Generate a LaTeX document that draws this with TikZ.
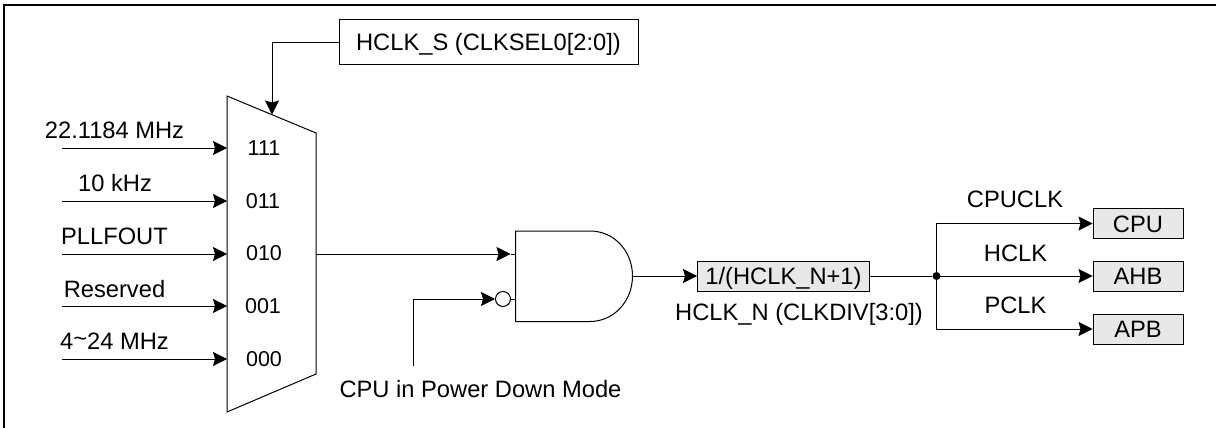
\documentclass[tikz,border=0pt]{standalone}
\usepackage{fontspec}
\setmainfont{Liberation Sans}
\usetikzlibrary{arrows.meta}
\tikzset{
  wire/.style={line width=1pt,draw=black},
  sig/.style={wire,-{Stealth[length=14pt,width=14pt,inset=2pt]}},
  lbl/.style={inner sep=0pt,anchor=base,font=\fontsize{23.7}{28}\selectfont},
  muxlbl/.style={inner sep=0pt,anchor=base,font=\fontsize{21.5}{24}\selectfont},
  plainbox/.style={draw=black,line width=1pt,inner sep=0pt,font=\fontsize{23.7}{28}\selectfont,text height=17pt,text depth=0pt},
  graybox/.style={plainbox,fill=boxgray},
  frameline/.style={line width=2.2pt,draw=black},
}
\definecolor{boxgray}{HTML}{E8E8E8}
\begin{document}
\begin{tikzpicture}[x=1pt,y=-1pt]
\useasboundingbox (0,0) rectangle (1216,428);
% frame
\coordinate (f1) at (4,428); \coordinate (f2) at (4,5); \coordinate (f3) at (1216,5);
\draw[frameline] (f1) -- (f2) -- (f3);
% mux
\coordinate (m1) at (227,96); \coordinate (m2) at (316,133); \coordinate (m3) at (316,374); \coordinate (m4) at (227,412);
\draw[wire,line join=miter] (m1) -- (m2) -- (m3) -- (m4) -- cycle;
\coordinate (msel) at (272,114.5);
% select box
\node[plainbox,minimum width=299pt,minimum height=45pt] (sel) at (488.5,42.5) {HCLK\_S (CLKSEL0[2:0])};
\draw[sig] (sel.west) -| (msel);
% inputs
\foreach \n/\y in {a/148,b/201,c/254,d/306,e/359}{
  \coordinate (s\n) at (62,\y);
  \coordinate (t\n) at (227,\y);
  \draw[sig] (s\n) -- (t\n);
}
\node[lbl] (la) at (114.5,138) {22.1184 MHz};
\node[lbl] (lb) at (115,191) {10 kHz};
\node[lbl] (lc) at (114.5,244) {PLLFOUT};
\node[lbl] (ld) at (114.5,297) {Reserved};
\node[lbl] (le) at (114.5,349) {4\raisebox{3pt}{\textasciitilde}24 MHz};
\node[muxlbl] (ma) at (264,155) {111};
\node[muxlbl] (mb) at (263,208) {011};
\node[muxlbl] (mc) at (264,260.5) {010};
\node[muxlbl] (md) at (263,313) {001};
\node[muxlbl] (me) at (264,366) {000};
% AND gate
\coordinate (g1) at (515.5,231); \coordinate (g2) at (515.5,321.5);
\coordinate (gi1) at (515.5,254); \coordinate (gi2) at (515.5,299);
\coordinate (gout) at (632.5,276);
\draw[wire] (g1) -- (590,231) .. controls (614,231) and (632.5,251) .. (gout)
  .. controls (632.5,301) and (614,321.5) .. (590,321.5) -- (g2) -- cycle;
\coordinate (minout) at (316,254);
\coordinate (minend) at (510.5,254);
\draw[sig] (minout) -- (minend);
\draw[wire] (minend) -- (gi1);
\node[circle,draw=black,line width=1pt,inner sep=0pt,minimum size=15pt] (inv) at (503,299) {};
\draw[wire] (inv.east) -- (gi2);
\coordinate (pd) at (413.5,366);
\draw[sig] (pd) |- (inv.west);
\node[lbl] (pdl) at (480.5,397) {CPU in Power Down Mode};
% divider
\node[graybox,minimum width=172pt,minimum height=30pt] (div) at (783.5,276) {1/(HCLK\_N+1)};
\draw[sig] (gout) -- (div.west);
\node[lbl] (divl) at (799,320) {HCLK\_N (CLKDIV[3:0])};
% outputs
\node[graybox,minimum width=90pt,minimum height=30pt] (cpu) at (1138,223.5) {CPU};
\node[graybox,minimum width=90pt,minimum height=30pt] (ahb) at (1138,276) {AHB};
\node[graybox,minimum width=90pt,minimum height=30pt] (apb) at (1138,329) {APB};
\node[circle,fill=black,inner sep=0pt,minimum size=8pt] (jn) at (936.5,276) {};
\draw[wire] (div.east) -- (jn);
\draw[sig] (jn.center) -- (ahb.west);
\draw[sig] (jn.center) |- (cpu.west);
\draw[sig] (jn.center) |- (apb.west);
\node[lbl] (l1) at (1015,207) {CPUCLK};
\node[lbl] (l2) at (1015.5,261) {HCLK};
\node[lbl] (l3) at (1015.5,313) {PCLK};
\end{tikzpicture}
\end{document}
